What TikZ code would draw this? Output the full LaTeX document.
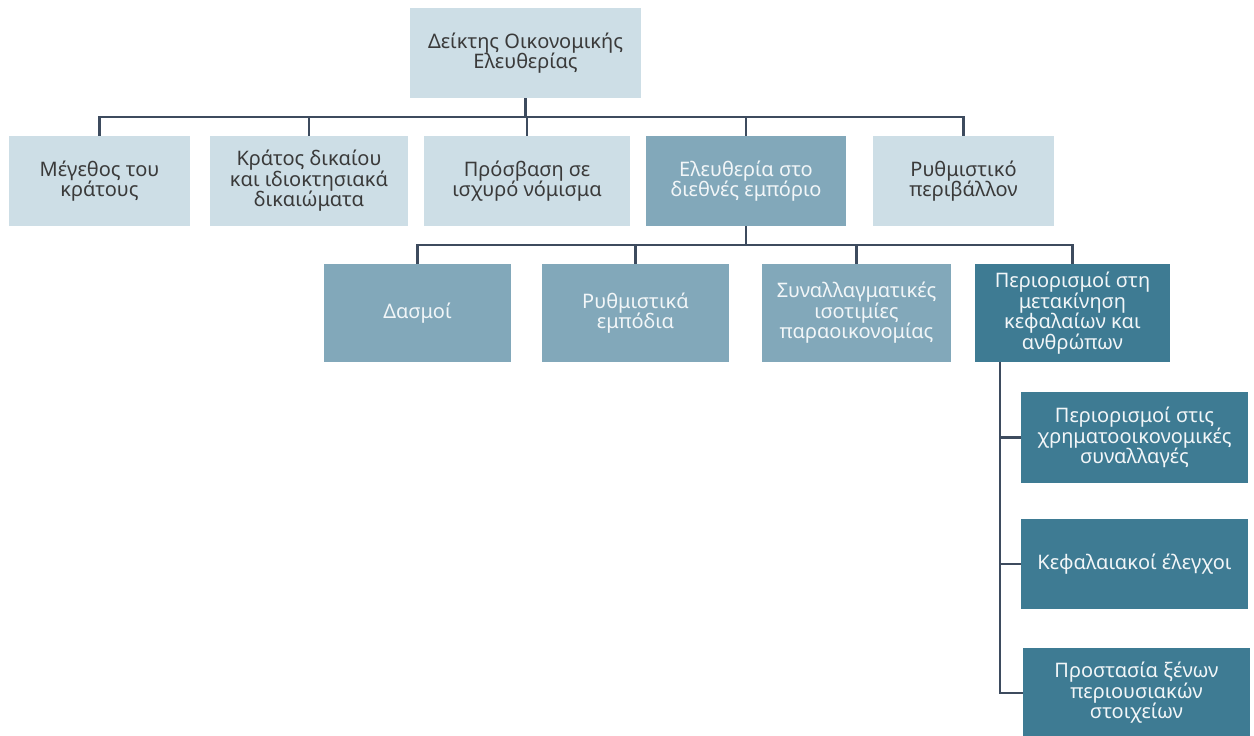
\documentclass[tikz,border=0pt]{standalone}
\usepackage{fontspec}
\setmainfont{Noto Sans}
\definecolor{cLite}{HTML}{CDDEE6}
\definecolor{cMid}{HTML}{82A8BA}
\definecolor{cDark}{HTML}{3E7B93}
\definecolor{cLine}{HTML}{3D4B5E}
\definecolor{cText}{HTML}{3A3A3A}
\definecolor{cWhite}{HTML}{F2F6F8}
\begin{document}
\begin{tikzpicture}[x=1pt,y=-1pt,
  box/.style={rectangle, inner sep=0pt, align=center, font=\fontsize{20}{20.5}\selectfont},
  lite/.style={box, fill=cLite, text=cText},
  mid/.style={box, fill=cMid, text=cWhite},
  dark/.style={box, fill=cDark, text=cWhite},
  link/.style={draw=cLine, line width=2.5pt}]
\useasboundingbox (0,0) rectangle (1254,736);
% level 0
\node[lite, minimum width=231pt, minimum height=90pt] (root) at (525.5,53) {Δείκτης Οικονομικής\\Ελευθερίας};
% level 1
\node[lite, minimum width=181pt, minimum height=90pt] (b1) at (99.5,181) {Μέγεθος του\\κράτους};
\node[lite, minimum width=198pt, minimum height=90pt] (b2) at (309,181) {Κράτος δικαίου\\και ιδιοκτησιακά\\δικαιώματα};
\node[lite, minimum width=206pt, minimum height=90pt] (b3) at (527,181) {Πρόσβαση σε\\ισχυρό νόμισμα};
\node[mid, minimum width=200pt, minimum height=90pt] (b4) at (746,181) {Ελευθερία στο\\διεθνές εμπόριο};
\node[lite, minimum width=181pt, minimum height=90pt] (b5) at (963.5,181) {Ρυθμιστικό\\περιβάλλον};
% level 2
\node[mid, minimum width=187pt, minimum height=98pt] (c1) at (417.5,313) {Δασμοί};
\node[mid, minimum width=187pt, minimum height=98pt] (c2) at (635.5,313) {Ρυθμιστικά\\εμπόδια};
\node[mid, minimum width=189pt, minimum height=98pt] (c3) at (856.5,313) {Συναλλαγματικές\\ισοτιμίες\\παραοικονομίας};
\node[dark, minimum width=195pt, minimum height=98pt] (c4) at (1072.5,313) {Περιορισμοί στη\\μετακίνηση\\κεφαλαίων και\\ανθρώπων};
% level 3
\node[dark, minimum width=227pt, minimum height=91pt] (d1) at (1134.5,437.5) {Περιορισμοί στις\\χρηματοοικονομικές\\συναλλαγές};
\node[dark, minimum width=227pt, minimum height=90pt] (d2) at (1134.5,564) {Κεφαλαιακοί έλεγχοι};
\node[dark, minimum width=227pt, minimum height=90pt] (d3) at (1136.5,693) {Προστασία ξένων\\περιουσιακών\\στοιχείων};
% connectors level 0 -> 1
\draw[link] (root.south) -- ++(0,19) -| (b1.north);
\draw[link] (root.south) -- ++(0,19) -| (b2.north);
\draw[link] (root.south) -- ++(0,19) -| (b3.north);
\draw[link] (root.south) -- ++(0,19) -| (b4.north);
\draw[link] (root.south) -- ++(0,19) -| (b5.north);
% connectors level 1 -> 2
\draw[link] (b4.south) -- ++(0,19) -| (c1.north);
\draw[link] (b4.south) -- ++(0,19) -| (c2.north);
\draw[link] (b4.south) -- ++(0,19) -| (c3.north);
\draw[link] (b4.south) -- ++(0,19) -| (c4.north);
% connectors level 2 -> 3
\draw[link] (c4.south west) ++(25,0) |- (d1.west);
\draw[link] (c4.south west) ++(25,0) |- (d2.west);
\draw[link] (c4.south west) ++(25,0) |- (d3.west);
\end{tikzpicture}
\end{document}
